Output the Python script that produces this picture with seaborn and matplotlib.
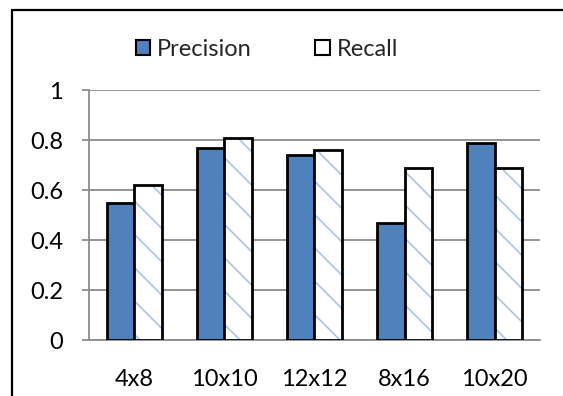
import matplotlib
matplotlib.use("Agg")
import matplotlib.pyplot as plt
import seaborn as sns
import pandas as pd
import numpy as np
from matplotlib.patches import Patch, Rectangle
from matplotlib.lines import Line2D

categories = ["4x8", "10x10", "12x12", "8x16", "10x20"]
precision = [0.55, 0.77, 0.74, 0.47, 0.79]
recall = [0.62, 0.81, 0.76, 0.69, 0.69]
series_names = ["Precision", "Recall"]
y_ticks = [0, 0.2, 0.4, 0.6, 0.8, 1]
y_tick_labels = ["0", "0.2", "0.4", "0.6", "0.8", "1"]

sns.set_theme(style="white")
plt.rcParams["font.family"] = ["Lato", "DejaVu Sans"]
plt.rcParams["hatch.linewidth"] = 1.2

df = pd.DataFrame({
    "Size": categories * 2,
    "Value": precision + recall,
    "Metric": [series_names[0]] * len(categories) + [series_names[1]] * len(categories),
})

BLUE = "#4F81BD"
HATCH = "#A9C4E4"
GRID = "#8C8C8C"
FS = 17

fig = plt.figure(figsize=(5.63, 3.96), dpi=100)
ax = fig.add_axes([0.158, 0.1414, 0.801, 0.6313])

sns.barplot(data=df, x="Size", y="Value", hue="Metric",
            palette={series_names[0]: BLUE, series_names[1]: "white"},
            width=0.61, gap=0.0, saturation=1, edgecolor="black",
            linewidth=2, legend=False, errorbar=None, ax=ax, zorder=3)

# hatch recall bars in light blue, then outline them in black
for p in list(ax.patches):
    fc = p.get_facecolor()
    if fc[0] > 0.95 and fc[1] > 0.95 and fc[2] > 0.95:
        p.set_hatch("\\")
        p.set_edgecolor(HATCH)
        p.set_linewidth(0)
        outline = Rectangle(p.get_xy(), p.get_width(), p.get_height(),
                            facecolor="none", edgecolor="black", linewidth=2,
                            zorder=4)
        ax.add_patch(outline)

ax.set_ylim(0, 1)
ax.set_xlim(-0.5, len(categories) - 0.5)
ax.set_yticks(y_ticks)
ax.set_yticklabels(y_tick_labels)
ax.yaxis.grid(True, color=GRID, linewidth=1.3, zorder=0)
ax.set_axisbelow(True)
ax.set_xlabel("")
ax.set_ylabel("")

for s in ["top", "right"]:
    ax.spines[s].set_visible(False)
for s in ["left", "bottom"]:
    ax.spines[s].set_color(GRID)
    ax.spines[s].set_linewidth(1.3)

ax.set_xticks(np.arange(-0.5, len(categories), 1), minor=True)
ax.tick_params(axis="x", which="major", length=0, pad=21, labelsize=FS, colors="black")
ax.tick_params(axis="x", which="minor", length=5, width=1.3, color=GRID, direction="out")
ax.tick_params(axis="y", length=5, width=1.3, color=GRID, direction="out",
               pad=13.5, labelsize=FS, labelcolor="black", left=True)

handles = [Patch(facecolor=BLUE, edgecolor="black", linewidth=1.5),
           Patch(facecolor="white", edgecolor="black", linewidth=1.5)]
fig.legend(handles, series_names, loc="center", bbox_to_anchor=(0.474, 0.876),
           ncol=2, frameon=False, fontsize=FS, handlelength=0.6,
           handleheight=0.6, handletextpad=0.3, columnspacing=2.7,
           borderpad=0.2)

# figure frame (left and top edges visible)
fig.add_artist(Line2D([12 / 563, 12 / 563], [0, 1 - 10 / 396],
                      transform=fig.transFigure, color="black", linewidth=1.6))
fig.add_artist(Line2D([12 / 563, 1], [1 - 10 / 396, 1 - 10 / 396],
                      transform=fig.transFigure, color="black", linewidth=1.6))

fig.savefig("out.png", dpi=100)
